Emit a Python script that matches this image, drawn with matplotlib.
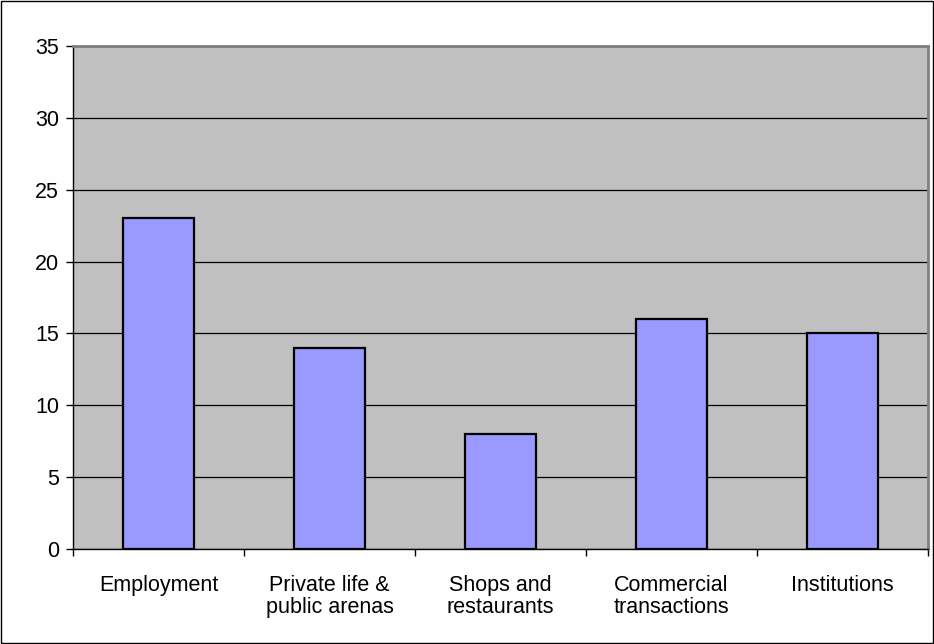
import matplotlib.pyplot as plt
from matplotlib.patches import Rectangle

# --- Data ---
categories = ["Employment", "Private life &\npublic arenas", "Shops and\nrestaurants",
              "Commercial\ntransactions", "Institutions"]
values = [23, 14, 8, 16, 15]
y_ticks = [0, 5, 10, 15, 20, 25, 30, 35]

plt.rcParams['font.family'] = ['Liberation Sans', 'DejaVu Sans']

fig = plt.figure(figsize=(9.34, 6.44), dpi=100)
ax = fig.add_axes([73 / 934, 1 - 549 / 644, 855 / 934, 503 / 644])
ax.set_facecolor("#C0C0C0")

x = list(range(len(categories)))
ax.bar(x, values, width=0.41, color="#9999FF", edgecolor="black", linewidth=1.6, zorder=3)

# gridlines
ax.set_ylim(0, 35)
ax.set_yticks(y_ticks)
ax.yaxis.grid(True, color="black", linewidth=0.9, zorder=1)
ax.set_axisbelow(True)

# x axis: ticks between categories, labels centred
ax.set_xlim(-0.5, len(categories) - 0.5)
ax.set_xticks([i - 0.5 for i in range(len(categories) + 1)])
ax.set_xticklabels([])
ax.set_xticks(x, minor=True)
ax.set_xticklabels(categories, minor=True, fontsize=15.5, linespacing=1.05)
ax.tick_params(axis="x", which="minor", length=0, pad=19)
ax.tick_params(axis="x", which="major", length=5, width=1, direction="out")
ax.tick_params(axis="y", length=5, width=1, labelsize=15.5, pad=5)

for side in ["top", "right"]:
    ax.spines[side].set_color("#808080")
    ax.spines[side].set_linewidth(2)
for side in ["left", "bottom"]:
    ax.spines[side].set_color("black")
    ax.spines[side].set_linewidth(1)

# outer chart border
fig.patches.append(Rectangle((0.001, 0.001), 0.998, 0.997, transform=fig.transFigure,
                             fill=False, edgecolor="black", linewidth=1))

fig.savefig("out.png", dpi=100)
